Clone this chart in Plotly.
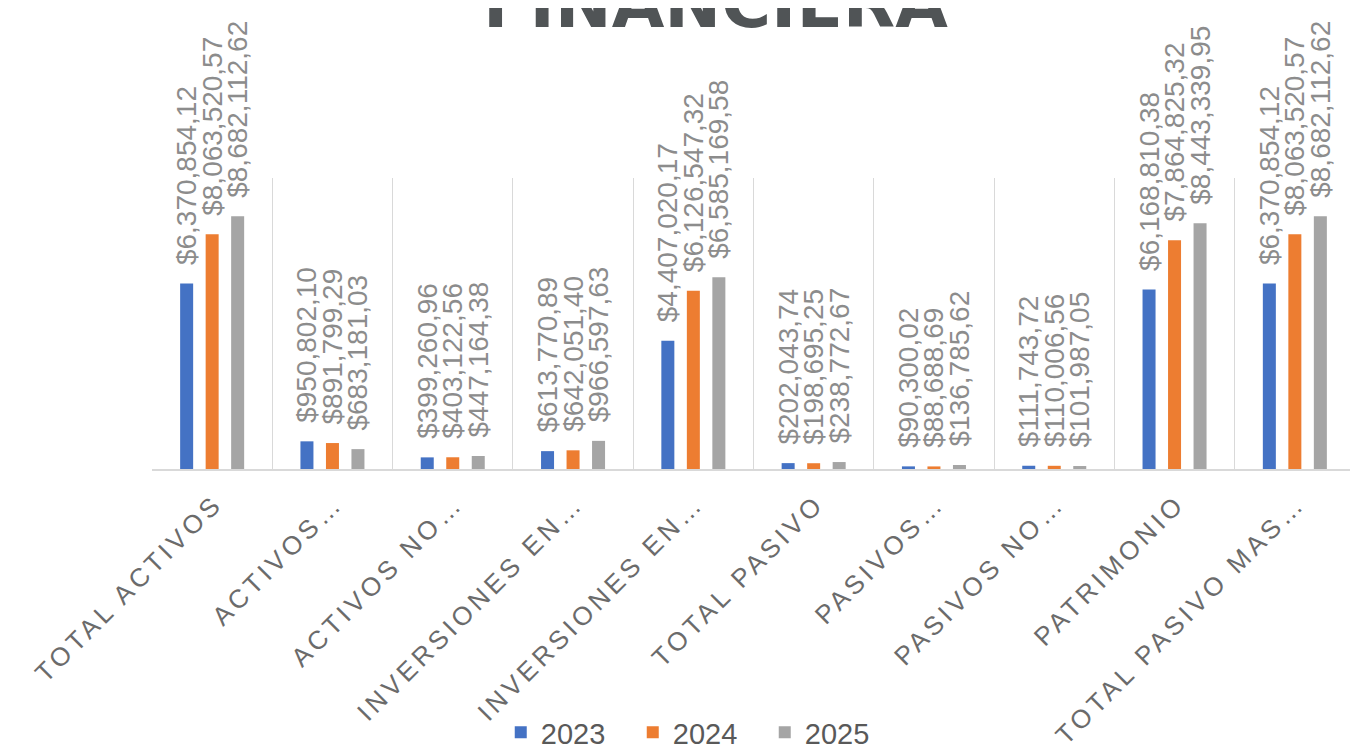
import plotly.graph_objects as go

categories = ["TOTAL ACTIVOS", "ACTIVOS…", "ACTIVOS NO…", "INVERSIONES EN…", "INVERSIONES EN…",
              "TOTAL PASIVO", "PASIVOS…", "PASIVOS NO…", "PATRIMONIO", "TOTAL PASIVO MAS…"]
years = ["2023", "2024", "2025"]
values_2023 = [6370854.12, 950802.10, 399260.96, 613770.89, 4407020.17, 202043.74, 90300.02, 111743.72, 6168810.38, 6370854.12]
values_2024 = [8063520.57, 891799.29, 403122.56, 642051.40, 6126547.32, 198695.25, 88688.69, 110006.56, 7864825.32, 8063520.57]
values_2025 = [8682112.62, 683181.03, 447164.38, 966597.63, 6585169.58, 238772.67, 136785.62, 101987.05, 8443339.95, 8682112.62]
colors = ["#4472C4", "#ED7D31", "#A5A5A5"]
title_text = "FINANCIERA"


def fmt(v):
    # leading non-breaking spaces give Excel-like gap between bar top and label
    return "\u00a0\u00a0$" + f"{v:,.2f}".replace(".", "#").replace("#", ",")


x_pos = list(range(len(categories)))
fig = go.Figure()
for name, vals, col in zip(years, [values_2023, values_2024, values_2025], colors):
    fig.add_trace(go.Bar(
        x=x_pos, y=vals, name=name, marker=dict(color=col, line=dict(width=0)),
        text=[fmt(v) for v in vals], textposition="outside", textangle=-90,
        constraintext="none", cliponaxis=False,
        textfont=dict(family="Liberation Sans", size=28, color="#8c8c8c"),
        hoverinfo="skip",
    ))

fig.add_annotation(text="<b>" + title_text + "</b>", xref="paper", yref="paper",
                   x=0.468, y=1, xanchor="center", yanchor="bottom", yshift=133,
                   showarrow=False,
                   font=dict(family="DejaVu Sans", size=68, color="#505456"))

# page body has an 8px margin, so the figure is sized/offset to compensate
fig.update_layout(
    width=1350, height=743,
    margin=dict(l=144, r=3, t=170, b=282, autoexpand=False),
    paper_bgcolor="white", plot_bgcolor="white",
    barmode="group", bargap=0.364, bargroupgap=0.49,
    showlegend=True,
    legend=dict(orientation="h", xref="container", yref="paper", x=0.365, y=-0.905,
                xanchor="left", yanchor="middle", entrywidth=87, entrywidthmode="pixels",
                font=dict(family="Liberation Sans", size=29, color="#595959"),
                itemwidth=30, traceorder="normal"),
    xaxis=dict(range=[-0.5, 9.5], tickmode="array", tickvals=x_pos, ticktext=categories,
               tickangle=-45, ticks="", showgrid=False, zeroline=False,
               showline=True, linecolor="#d9d9d9", linewidth=2,
               ticklabelstandoff=7, ticklabelshift=3,
               tickfont=dict(family="Liberation Sans", size=26, color="#6b6b6b"),
               minor=dict(tickmode="array", tickvals=[i - 0.5 for i in range(len(categories) + 1)],
                          showgrid=True, gridcolor="#d9d9d9", gridwidth=1, ticks="")),
    yaxis=dict(range=[0, 10000000], showgrid=False, zeroline=False, showticklabels=False,
               ticks="", showline=False),
)

# Excel-style letter spacing on the category labels
spacing_js = ("document.querySelectorAll('.xtick text').forEach(function(t)"
              "{t.style.letterSpacing='4px';});")
fig.write_html("out.html", post_script=spacing_js)
